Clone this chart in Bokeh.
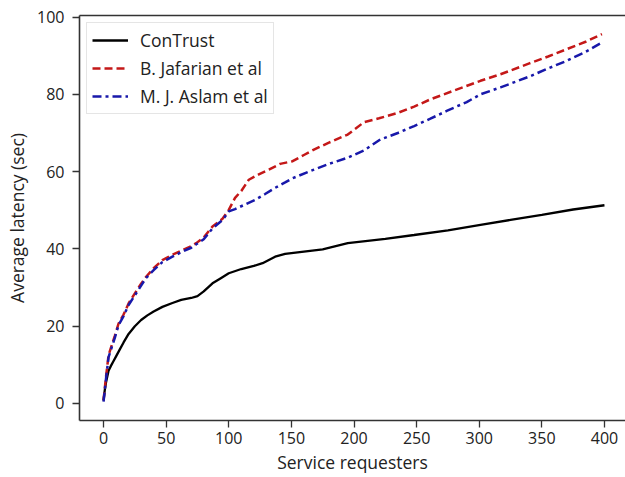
from bokeh.plotting import figure
from bokeh.models import Range1d, FixedTicker, LinearAxis, Legend, LegendItem
from bokeh.embed import file_html
from bokeh.resources import INLINE

# ---- data ----
contrust_x = [0, 1, 2, 4, 6, 8, 10, 13, 16, 20, 25, 30, 35, 40, 47, 55, 62, 70, 75, 80, 87,
              93, 100, 110, 120, 127, 137, 145, 150, 160, 175, 195, 225, 248, 275, 301, 325,
              350, 375, 400]
contrust_y = [0.8, 3.5, 5.5, 8.5, 9.8, 11, 12.2, 14, 15.8, 18, 20, 21.6, 22.8, 23.8, 25, 26,
              26.8, 27.3, 27.8, 29, 31.1, 32.3, 33.7, 34.8, 35.6, 36.3, 38, 38.7, 38.9, 39.3,
              39.9, 41.5, 42.6, 43.6, 44.8, 46.2, 47.5, 48.8, 50.2, 51.3]

jafarian_x = [0, 1, 2, 4, 6, 9, 12, 16, 20, 25, 30, 34, 40, 47, 55, 63, 70, 74, 80, 87, 95,
              100, 105, 110, 116, 124, 132, 141, 151, 160, 168, 180, 195, 208, 220, 235, 248,
              261, 280, 301, 317, 340, 355, 370, 385, 398]
jafarian_y = [0.8, 4, 7, 12.5, 14.5, 17.5, 20.7, 23, 25.9, 28.5, 31, 32.8, 35, 37.1, 38.5,
              39.7, 40.7, 41.5, 43, 45.8, 47.8, 50.1, 53.2, 55, 57.9, 59.3, 60.5, 62, 62.7,
              64.3, 65.7, 67.5, 69.6, 72.8, 73.8, 75.2, 76.8, 78.7, 81, 83.5, 85.2, 88, 89.8,
              91.7, 93.6, 95.6]

aslam_x = [0, 1, 2, 4, 6, 9, 12, 16, 20, 25, 30, 34, 40, 47, 55, 63, 70, 74, 80, 87, 95, 100,
           105, 113, 121, 129, 137, 145, 151, 168, 180, 195, 208, 221, 235, 248, 261, 274,
           290, 301, 317, 340, 355, 370, 385, 398]
aslam_y = [0.5, 3.5, 6.5, 12, 14, 17, 20.3, 22.6, 25.5, 28, 30.5, 32.5, 34.5, 36.6, 38, 39.3,
           40.3, 41.2, 42.5, 45.3, 47.5, 49.7, 50.3, 51.5, 52.7, 54.2, 55.8, 57.2, 58.3, 60.5,
           62, 63.6, 65.5, 68.3, 70, 71.8, 73.7, 75.7, 78, 80, 81.8, 84.6, 86.7, 88.7, 91,
           93.4]

x_ticks = [0, 50, 100, 150, 200, 250, 300, 350, 400]
y_ticks = [0, 20, 40, 60, 80, 100]

FONT = "Open Sans"
TXT = "#222222"

p = figure(width=625, height=477, output_backend="svg", toolbar_location=None,
           x_range=Range1d(-19.2, 416.8), y_range=Range1d(-4.4, 100.4),
           min_border_left=79, min_border_right=0, min_border_top=15, min_border_bottom=57,
           background_fill_color="white", border_fill_color="white")
p.outline_line_color = None
p.xgrid.visible = False
p.ygrid.visible = False

r1 = p.line(contrust_x, contrust_y, line_color="black", line_width=2.3)
r2 = p.line(jafarian_x, jafarian_y, line_color="#c41818", line_width=2.5, line_dash="8 4")
r3 = p.line(aslam_x, aslam_y, line_color="#1818aa", line_width=2.5, line_dash="9 4 3 4")

for ax, ticks, lab in ((p.xaxis[0], x_ticks, "Service requesters"),
                       (p.yaxis[0], y_ticks, "Average latency (sec)")):
    ax.ticker = FixedTicker(ticks=ticks)
    ax.axis_label = lab
    ax.axis_label_text_font = FONT
    ax.axis_label_text_font_size = "17.5px"
    ax.axis_label_text_font_style = "normal"
    ax.axis_label_text_color = TXT
    ax.major_label_text_font = FONT
    ax.major_label_text_font_size = "16px"
    ax.major_label_text_color = TXT
    ax.axis_line_color = "#333333"
    ax.axis_line_width = 1.6
    ax.major_tick_line_color = "#333333"
    ax.major_tick_line_width = 1.3
    ax.major_tick_out = 7
    ax.major_tick_in = 0
    ax.minor_tick_line_color = None

p.xaxis[0].major_label_standoff = 4
p.xaxis[0].axis_label_standoff = 3
p.yaxis[0].major_label_standoff = 8
p.yaxis[0].axis_label_standoff = 5

top = LinearAxis(ticker=FixedTicker(ticks=[]), axis_line_color="#333333", axis_line_width=1.6,
                 major_tick_line_color=None, minor_tick_line_color=None)
p.add_layout(top, "above")

legend = Legend(items=[LegendItem(label="ConTrust", renderers=[r1]),
                       LegendItem(label="B. Jafarian et al", renderers=[r2]),
                       LegendItem(label="M. J. Aslam et al", renderers=[r3])],
                location="top_left")
legend.margin = 7
legend.padding = 5
legend.spacing = 4
legend.glyph_width = 36
legend.glyph_height = 24
legend.label_height = 24
legend.label_standoff = 12
legend.label_text_font = FONT
legend.label_text_font_size = "17.5px"
legend.label_text_color = TXT
legend.border_line_color = "#cccccc"
legend.border_line_width = 1.2
legend.background_fill_alpha = 0.85
p.add_layout(legend, "center")

open("out.html", "w").write(file_html(p, INLINE))
